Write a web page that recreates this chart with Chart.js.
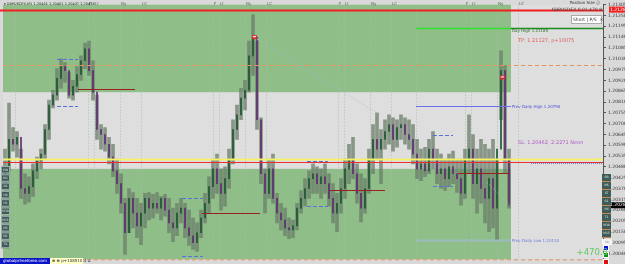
<!DOCTYPE html>
<html lang="en">
<head>
<meta charset="UTF-8">
<title>GBPUSDFX M1</title>
<script src="https://cdn.jsdelivr.net/npm/chart.js"></script>
<style>
  html, body { margin: 0; padding: 0; background: #d9d9d9; overflow: hidden; }
  #chart { display: block; }
</style>
</head>
<body>
<canvas id="chart" width="625" height="264"></canvas>
<script>
// M1 candles (one every ~4 px)
const firstOpen = 1.20440;
const highs = [
  1.20570, 1.20805, 1.20680, 1.20660, 1.20570, 1.20445, 1.20430, 1.20495, 1.20530, 1.20570,
  1.20695, 1.20820, 1.20870, 1.20980, 1.21030, 1.21010, 1.20960, 1.20920, 1.20990, 1.21045,
  1.21110, 1.21120, 1.21020, 1.20845, 1.20695, 1.20680, 1.20630, 1.20595, 1.20520, 1.20445,
  1.20320, 1.20370, 1.20350, 1.20320, 1.20295, 1.20345, 1.20350, 1.20340, 1.20350, 1.20330,
  1.20340, 1.20320, 1.20270, 1.20295, 1.20320, 1.20295, 1.20260, 1.20220, 1.20195, 1.20260,
  1.20345, 1.20430, 1.20520, 1.20545, 1.20470, 1.20480, 1.20570, 1.20720, 1.20795, 1.20880,
  1.20920, 1.21120, 1.21255, 1.21120, 1.20730, 1.20470, 1.20520, 1.20545, 1.20345, 1.20295,
  1.20270, 1.20220, 1.20210, 1.20295, 1.20360, 1.20420, 1.20460, 1.20495, 1.20480, 1.20470,
  1.20495, 1.20445, 1.20395, 1.20345, 1.20420, 1.20520, 1.20595, 1.20630, 1.20495, 1.20445,
  1.20420, 1.20570, 1.20695, 1.20755, 1.20670, 1.20720, 1.20745, 1.20730, 1.20720, 1.20745,
  1.20730, 1.20720, 1.20695, 1.20620, 1.20570, 1.20580, 1.20620, 1.20660, 1.20570, 1.20545,
  1.20520, 1.20545, 1.20560, 1.20520, 1.20520, 1.20570, 1.20745, 1.20645, 1.20570, 1.20620,
  1.20595, 1.20570, 1.20620, 1.20520, 1.21070, 1.20995, 1.20570
];
const lows = [
  1.20395, 1.20460, 1.20560, 1.20530, 1.20320, 1.20290, 1.20300, 1.20330, 1.20420, 1.20470,
  1.20520, 1.20620, 1.20780, 1.20820, 1.20880, 1.20910, 1.20830, 1.20820, 1.20860, 1.20920,
  1.20980, 1.20945, 1.20820, 1.20620, 1.20570, 1.20560, 1.20495, 1.20430, 1.20345, 1.20245,
  1.20035, 1.20145, 1.20170, 1.20120, 1.20085, 1.20170, 1.20210, 1.20220, 1.20245, 1.20210,
  1.20230, 1.20145, 1.20100, 1.20130, 1.20195, 1.20120, 1.20080, 1.20060, 1.20050, 1.20120,
  1.20195, 1.20245, 1.20320, 1.20345, 1.20260, 1.20280, 1.20370, 1.20495, 1.20620, 1.20720,
  1.20770, 1.20860, 1.20945, 1.20670, 1.20395, 1.20245, 1.20320, 1.20295, 1.20195, 1.20160,
  1.20130, 1.20115, 1.20120, 1.20160, 1.20245, 1.20280, 1.20320, 1.20345, 1.20345, 1.20320,
  1.20345, 1.20280, 1.20195, 1.20150, 1.20245, 1.20320, 1.20395, 1.20420, 1.20295, 1.20200,
  1.20245, 1.20345, 1.20445, 1.20520, 1.20395, 1.20570, 1.20595, 1.20560, 1.20580, 1.20620,
  1.20595, 1.20570, 1.20495, 1.20420, 1.20410, 1.20430, 1.20445, 1.20470, 1.20395, 1.20370,
  1.20360, 1.20380, 1.20395, 1.20350, 1.20285, 1.20320, 1.20445, 1.20320, 1.20245, 1.20295,
  1.20195, 1.20150, 1.20170, 1.20110, 1.20720, 1.20445, 1.20270
];
const closes = [
  1.20470, 1.20620, 1.20595, 1.20630, 1.20370, 1.20345, 1.20380, 1.20460, 1.20510, 1.20545,
  1.20670, 1.20795, 1.20845, 1.20930, 1.20990, 1.20970, 1.20845, 1.20890, 1.20950, 1.21020,
  1.21080, 1.20970, 1.20860, 1.20670, 1.20645, 1.20595, 1.20530, 1.20460, 1.20395, 1.20295,
  1.20145, 1.20320, 1.20245, 1.20180, 1.20245, 1.20320, 1.20270, 1.20295, 1.20270, 1.20320,
  1.20260, 1.20195, 1.20170, 1.20245, 1.20270, 1.20170, 1.20130, 1.20095, 1.20145, 1.20220,
  1.20295, 1.20380, 1.20470, 1.20395, 1.20345, 1.20420, 1.20520, 1.20670, 1.20745, 1.20830,
  1.20870, 1.21045, 1.21140, 1.20720, 1.20445, 1.20345, 1.20470, 1.20320, 1.20245, 1.20210,
  1.20170, 1.20160, 1.20180, 1.20270, 1.20320, 1.20370, 1.20420, 1.20445, 1.20395, 1.20430,
  1.20395, 1.20320, 1.20245, 1.20295, 1.20370, 1.20470, 1.20520, 1.20445, 1.20345, 1.20270,
  1.20370, 1.20520, 1.20620, 1.20570, 1.20620, 1.20660, 1.20695, 1.20620, 1.20680, 1.20695,
  1.20645, 1.20620, 1.20545, 1.20470, 1.20495, 1.20460, 1.20570, 1.20520, 1.20445, 1.20470,
  1.20420, 1.20480, 1.20445, 1.20420, 1.20345, 1.20520, 1.20570, 1.20395, 1.20470, 1.20370,
  1.20320, 1.20420, 1.20270, 1.20570, 1.20970, 1.20520, 1.20285
];
const opens = [firstOpen].concat(closes.slice(0, -1));

// 150 bar slots across the window, the last ones are still empty
const bars = Array.from({ length: 150 }, (_, i) => String(i));

// right price axis
const priceTicks = [
  1.21305, 1.21250, 1.21195, 1.21140, 1.21085, 1.21030, 1.20975, 1.20920,
  1.20865, 1.20810, 1.20755, 1.20700, 1.20645, 1.20590, 1.20535, 1.20480,
  1.20425, 1.20370, 1.20315, 1.20260, 1.20205, 1.20150, 1.20095, 1.20040
];
const priceMin = 1.20010;
const priceMax = 1.21305;

// session markers (bar index of each session start, per day)
const sessionNames = ['F', 'Lt', 'Ny', 'LC'];
const sessionBars = [
  [20.75, 22.25, 28.75, 34],
  [52, 53.5, 60, 65.25],
  [83.25, 84.75, 91.25, 96.5],
  [115, 116.5, 123, 128.25]
];
const daySeparators = [2.5, 102.75];

// supply / demand zones (green), price ranges
const zoneTops = [1.21305, 1.20470];
const zoneBottoms = [1.20860, 1.20010];
const zoneEnd = 126.5;

// levels
const topLine = 1.21280;
const dayHigh = 1.21185;
const orangeLevel = 1.21000;
const yellowLevel = 1.20515;
const redLevel = 1.20505;
const prevDayHigh = 1.20790;
const prevDayLow = 1.20110;
const tpPrice = 1.21127;
const slPrice = 1.20462;

// session range boxes (dashed) and pivots (dark red)
const rangeFrom = [13, 44.25, 75.5, 107];
const rangeTo = [18.25, 49.5, 80.75, 112];
const rangeHigh = [1.21030, 1.20320, 1.20510, 1.20640];
const rangeLow = [1.20790, 1.20025, 1.20280, 1.20385];
const pivotFrom = [18.25, 49.25, 81.25, 113.25];
const pivotTo = [32.5, 63.75, 95, 126.25];
const pivotPrice = [1.20875, 1.20245, 1.20365, 1.20450];

// trade lines and order markers
const tradeLines = [
  [63, 1.21130, 93.75, 1.20745],
  [120.5, 1.20400, 126.25, 1.20285]
];
const markerBars = [62.25, 124.25];
const markerPrices = [1.21140, 1.20935];

const leftButtons = ['MN', 'W1', 'D1', 'H4', 'H1', 'M30', 'M15', 'M5', 'M1', 'TK'];
const rightButtons = ['SB', 'MS', 'ST', 'S2', 'H4', 'T1', 'M30', 'M15'];

const FONT = '"DejaVu Sans", sans-serif';

function line(ctx, x1, y1, x2, y2, color, width, dash) {
  ctx.save();
  ctx.strokeStyle = color;
  ctx.lineWidth = width;
  ctx.setLineDash(dash || []);
  ctx.beginPath();
  ctx.moveTo(x1, y1);
  ctx.lineTo(x2, y2);
  ctx.stroke();
  ctx.restore();
}

function text(ctx, str, x, y, color, size, align) {
  ctx.save();
  ctx.fillStyle = color;
  ctx.font = size + 'px ' + FONT;
  ctx.textAlign = align || 'left';
  ctx.textBaseline = 'middle';
  ctx.fillText(str, x, y);
  ctx.restore();
}

const overlay = {
  id: 'overlay',
  beforeDraw(chart) {
    const ctx = chart.ctx;
    ctx.save();
    ctx.fillStyle = '#d9d9d9';
    ctx.fillRect(0, 0, chart.width, chart.height);
    ctx.restore();
  },
  beforeDatasetsDraw(chart) {
    const { ctx, chartArea: a, scales: { x, y } } = chart;
    ctx.save();
    ctx.fillStyle = '#dedede';
    ctx.fillRect(a.left, a.top, a.right - a.left, a.bottom - a.top);
    ctx.fillStyle = '#8fbe89';
    const xe = x.getPixelForValue(zoneEnd);
    zoneTops.forEach((t, i) => {
      const y1 = y.getPixelForValue(t), y2 = y.getPixelForValue(zoneBottoms[i]);
      ctx.fillRect(a.left, y1, xe - a.left, y2 - y1);
    });
    ctx.restore();
    // dotted session lines
    const vx = daySeparators.slice();
    sessionBars.forEach(d => d.forEach(b => vx.push(b)));
    vx.forEach(b => {
      const px = Math.round(x.getPixelForValue(b)) + 0.5;
      line(ctx, px, a.top, px, a.bottom, 'rgba(170,190,170,0.9)', 1, [1, 2]);
    });
  },
  afterDatasetsDraw(chart) {
    const { ctx, chartArea: a, scales: { x, y } } = chart;
    const Y = p => Math.round(y.getPixelForValue(p)) + 0.5;
    const X = b => x.getPixelForValue(b);
    ctx.save();
    ctx.beginPath();
    ctx.rect(a.left, a.top, a.right - a.left, a.bottom - a.top + 2);
    ctx.clip();

    line(ctx, a.left, Y(orangeLevel), a.right, Y(orangeLevel), '#e9925a', 1, [4, 3]);
    line(ctx, a.left, Y(yellowLevel) - 1, a.right, Y(yellowLevel) - 1, '#f4f06a', 2);
    line(ctx, a.left, Y(redLevel), a.right, Y(redLevel), '#e83030', 1);
    line(ctx, X(zoneEnd) + 20, Y(redLevel) + 1, a.right, Y(redLevel) + 1, '#6d7de0', 1, [1, 1]);
    line(ctx, a.left, a.bottom + 0.5, a.right, a.bottom + 0.5, '#e9925a', 1, [4, 3]);

    // day high / prev day lines
    line(ctx, X(daySeparators[1]), Y(dayHigh), X(zoneEnd), Y(dayHigh), '#2fe02f', 1.5);
    line(ctx, X(zoneEnd), Y(dayHigh), a.right, Y(dayHigh), '#1f8a1f', 1.5);
    line(ctx, X(daySeparators[1]), Y(prevDayHigh), X(zoneEnd), Y(prevDayHigh), '#6e6ef0', 1);
    line(ctx, X(daySeparators[1]), Y(prevDayLow), X(zoneEnd), Y(prevDayLow), 'rgba(160,185,200,0.9)', 2);

    // session range boxes and pivots
    rangeFrom.forEach((f, i) => {
      line(ctx, X(f), Y(rangeHigh[i]), X(rangeTo[i]), Y(rangeHigh[i]), '#5a6fe0', 1, [4, 2]);
      line(ctx, X(f), Y(rangeLow[i]), X(rangeTo[i]), Y(rangeLow[i]), '#5a6fe0', 1, [4, 2]);
    });
    pivotFrom.forEach((f, i) => {
      line(ctx, X(f), Y(pivotPrice[i]), X(pivotTo[i]), Y(pivotPrice[i]), '#9a1f1f', 1);
    });

    tradeLines.forEach(t => {
      line(ctx, X(t[0]), y.getPixelForValue(t[1]), X(t[2]), y.getPixelForValue(t[3]), '#9cc0dc', 1, [1, 2]);
    });
    markerBars.forEach((b, i) => {
      const mx = X(b), my = y.getPixelForValue(markerPrices[i]);
      ctx.fillStyle = '#d83030';
      ctx.fillRect(mx - 2, my - 2, 5, 4);
      ctx.fillStyle = '#ffffff';
      ctx.fillRect(mx - 1, my - 1, 3, 1);
    });
    ctx.restore();

    // level captions
    const tx = X(zoneEnd) + 1;
    text(ctx, 'Day High 1.21185', tx, Y(dayHigh) + 2, '#2a6a2a', 4);
    text(ctx, 'Prev Daily High 1.20790', tx, Y(prevDayHigh), '#4b4bd8', 4);
    text(ctx, 'Prev Daily Low 1.20110', tx, Y(prevDayLow), '#6b7be0', 4);
    text(ctx, 'TP: 1.21127, p+10075', tx + 6, Y(tpPrice), '#e06060', 5);
    text(ctx, 'SL: 1.20462, 2:2271 Neon', tx + 6, Y(slPrice) - 28, '#b060c8', 5);
  },
  afterDraw(chart) {
    const { ctx, chartArea: a, scales: { x, y } } = chart;
    const Y = p => y.getPixelForValue(p);

    // red level, drawn over everything including the axis
    line(ctx, 0, Math.round(Y(topLine)) + 0.5, a.right, Math.round(Y(topLine)) + 0.5, '#f02020', 2);

    // session captions
    sessionBars.forEach(d => d.forEach((b, i) => {
      text(ctx, sessionNames[i], x.getPixelForValue(b) + 1, 4, '#556655', 4);
    }));

    // header
    text(ctx, '\u25BE GBPUSDFX,M1 1.20461 1.20461 1.20437 1.20438', 4, 4, '#1a2a1a', 3.5);

    // price boxes on the axis
    const boxes = [[topLine, '#f02020'], [closes[closes.length - 1], '#000000']];
    boxes.forEach(([p, c]) => {
      const py = Y(p);
      ctx.fillStyle = c;
      ctx.fillRect(a.right + 6, py - 3, 19, 6);
      text(ctx, p.toFixed(5), a.right + 7, py, '#ffffff', 4.5);
    });

    // top right panel
    text(ctx, 'Position Size \u24D8', 600, 3, '#333333', 4, 'right');
    text(ctx, 'GBPUSDFX 0.01 470.8', 602, 10, '#444444', 4.5, 'right');
    ctx.fillStyle = '#ffffff';
    ctx.fillRect(571, 15, 30, 8);
    ctx.strokeStyle = '#aaaaaa';
    ctx.strokeRect(571.5, 15.5, 30, 8);
    text(ctx, 'Short | P/S  \u00D7', 573, 19.5, '#333333', 4.5);

    // timeframe buttons, left
    leftButtons.forEach((t, i) => {
      const by = 166 + i * 8.3;
      ctx.fillStyle = '#3e5c58';
      ctx.fillRect(1, by, 9, 7.5);
      ctx.strokeStyle = '#9fb0aa';
      ctx.strokeRect(1.5, by + 0.5, 8, 6.5);
      text(ctx, t, 5.5, by + 4, '#e0e8e0', 3, 'center');
    });
    // timeframe buttons, right
    rightButtons.forEach((t, i) => {
      const by = 174 + i * 8;
      ctx.fillStyle = '#3e5c58';
      ctx.fillRect(602, by, 9, 7);
      ctx.fillStyle = '#c8864a';
      ctx.fillRect(602, by + 7, 9, 1);
      text(ctx, t, 606.5, by + 3.5, '#e0e8e0', 3, 'center');
    });
    ctx.fillStyle = '#f4f4f4';
    ctx.fillRect(602, 239, 10, 6);
    text(ctx, 'Ski', 607, 242, '#888888', 3, 'center');
    [['#1010e0', 245], ['#109010', 252], ['#e01010', 259]].forEach(([c, by]) => {
      ctx.fillStyle = '#ffffff';
      ctx.fillRect(603, by, 6, 6);
      ctx.fillStyle = c;
      ctx.fillRect(604, by + 1, 4, 4);
    });

    // profit
    text(ctx, '+470.8', 608, 253, '#62c862', 8.5, 'right');

    // bottom left caption
    ctx.fillStyle = '#0a14c8';
    ctx.fillRect(0, 258, 50, 6);
    text(ctx, 'globalprimeforex.com', 25, 261, '#ffffff', 4, 'center');
    ctx.fillStyle = '#ffffc8';
    ctx.fillRect(50, 258, 33, 6);
    text(ctx, '\u2261 \u2261 p+108510.4 \u2220', 52, 261, '#333333', 4);
  }
};

const ctx = document.getElementById('chart').getContext('2d');
new Chart(ctx, {
  type: 'bar',
  data: {
    labels: bars,
    datasets: [
      {
        label: 'Range',
        data: highs.map((h, i) => [lows[i], h]),
        backgroundColor: 'rgba(105,125,105,0.75)',
        barThickness: 3,
        grouped: false,
        order: 2
      },
      {
        label: 'Body',
        data: closes.map((c, i) => [opens[i], c]),
        backgroundColor: closes.map((c, i) => c >= opens[i] ? '#1c5530' : '#5e2c70'),
        barThickness: 1,
        minBarLength: 1,
        grouped: false,
        order: 1
      }
    ]
  },
  options: {
    responsive: false,
    animation: false,
    layout: { padding: { left: 3, top: 3, bottom: 2, right: 0 } },
    plugins: { legend: { display: false }, tooltip: { enabled: false } },
    scales: {
      x: { display: false, offset: true },
      y: {
        position: 'right',
        min: priceMin,
        max: priceMax,
        afterBuildTicks: scale => { scale.ticks = priceTicks.map(v => ({ value: v })); },
        afterFit: scale => { scale.width = 22; },
        ticks: {
          autoSkip: false,
          padding: 2,
          color: '#333333',
          font: { size: 4.5, family: FONT },
          callback: v => v.toFixed(5)
        },
        grid: { drawOnChartArea: false, tickLength: 3, color: '#555555' },
        border: { display: true, color: '#555555' }
      }
    }
  },
  plugins: [overlay]
});
</script>
</body>
</html>
